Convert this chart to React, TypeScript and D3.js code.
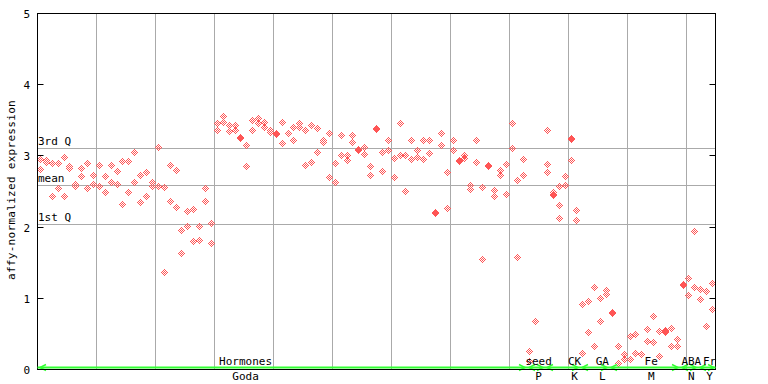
import React, { useEffect, useRef } from 'react'
import * as d3 from 'd3'

// replicate values per sample position, one array per experiment group
const goda: number[][] = [
    [2.95, 2.81], [2.93, 2.91], [2.9, 2.43], [2.9, 2.545], [2.98, 2.43], [2.85, 2.82], [2.6, 2.57], [2.83, 2.71],
    [2.89, 2.545], [2.72, 2.6], [2.87, 2.57], [2.71, 2.49], [2.87, 2.63], [2.78, 2.6], [2.925, 2.32], [2.925, 2.49],
    [3.05, 2.63], [2.73, 2.35], [2.77, 2.43], [2.63, 2.57], [3.12, 2.57], [2.56, 1.36], [2.87, 2.36], [2.8, 2.28],
    [1.95, 1.63], [2.22, 2.01], [2.25, 1.8], [2.01, 1.81], [2.545, 2.36], [2.05, 1.77], [3.45, 3.36], [3.56, 3.47],
    [3.42, 3.34], [3.42, 3.36], [3.26, 3.246], [3.14, 2.85], [3.5, 3.35], [3.53, 3.46], [3.47, 3.4], [3.36, 3.33],
    [3.31, 3.296], [3.47, 3.18], [3.31], [3.4, 3.22], [3.46, 3.4], [3.35, 2.87], [3.43, 2.91], [3.39, 3.05],
    [3.22, 3.19], [3.31, 2.69], [2.9, 2.63], [3.29, 3.0], [3.0, 2.94], [3.28, 3.19], [3.09, 3.07], [3.12, 3.02],
    [2.85, 2.73], [3.38, 3.366], [3.05, 2.78], [3.22, 3.07], [2.97, 2.7], [3.45, 3.0], [3.0, 2.5], [3.22, 2.95],
    [3.08, 2.98], [3.22, 2.95], [3.21, 3.04], [2.2, 2.186], [3.31, 3.14], [2.77, 2.26], [3.22, 3.08], [2.93, 2.916],
    [3.0, 2.97], [2.59, 2.53], [3.21, 2.91], [2.55, 1.545], [2.86, 2.846], [2.52, 2.43], [2.8, 2.73], [2.88, 2.46],
    [3.45, 3.11], [2.66, 1.57], [2.95, 2.73],
]
const seed: number[][] = [[0.25, 0.11], [0.67], []]
const ck: number[][] = [[3.35, 2.88, 2.77], [2.49, 2.455, 2.441], [2.57, 2.31, 2.12], [2.71, 2.59], [3.24, 3.226, 2.94], [2.235, 2.09]]
const ga: number[][] = [[0.91, 0.22], [0.95, 0.52], [1.15, 0.32], [1.0, 0.67], [1.11, 1.05]]
const fe: number[][] = [
    [0.8, 0.78], [0.33, 0.08], [0.21, 0.145], [0.46, 0.14], [0.49, 0.22], [0.21],
    [0.56, 0.39], [0.74, 0.38], [0.54, 0.18], [0.545, 0.531, 0.52], [0.57, 0.32], [0.42, 0.33],
]
const aba: number[][] = [[1.2, 1.186], [1.28, 1.04], [1.94, 1.15]]
const fr: number[][] = [[1.12, 0.98], [1.09, 0.6], [1.21, 0.84]]

const groups = [goda, seed, ck, ga, fe, aba, fr]
const topLabels = ['Hormones', 'seed', 'CK', 'GA', 'Fe', 'ABA', 'Fr']
const bottomLabels = ['Goda', 'P', 'K', 'L', 'M', 'N', 'Y']
// label anchor, in sample-index units
const labelAt = [35.3, 85, 91.1, 95.8, 104.1, 110.9, 114]

const yTicks = [0, 1, 2, 3, 4, 5]
const quartileNames = ['3rd Q', 'mean', '1st Q']
const quartileValues = [3.108, 2.587, 2.038]

const FONT = 'DejaVu Sans Mono, monospace'
const RED = '#ff5555'
const GREEN = '#33ff33'
const GRID = '#aaaaaa'

// checker diamond: pixels with odd manhattan distance <= 3
const diamondPath = (cx: number, cy: number) => {
    let p = ''
    for (let dx = -3; dx <= 3; dx++) {
        for (let dy = -3; dy <= 3; dy++) {
            const m = Math.abs(dx) + Math.abs(dy)
            if (m <= 3 && m % 2 === 1) p += `M${cx + dx} ${cy + dy}h1v1h-1z`
        }
    }
    return p
}

const Chart: React.FC<{ width: number; height: number }> = ({ width, height }) => {
    const svgRef = useRef<SVGSVGElement | null>(null)

    useEffect(() => {
        const svg = d3.select(svgRef.current)
        svg.selectAll('*').remove()

        const total = d3.sum(groups, g => g.length)
        const xScale = d3.scaleLinear().domain([0, total]).range([37.5, 715.5])
        const yScale = d3.scaleLinear().domain([0, 5]).range([369.5, 13.5])
        const px = (v: number) => Math.floor(v) + 0.5

        // vertical grid every 10 samples
        const gridIdx = d3.range(10, total, 10)
        svg.append('g')
            .selectAll('line')
            .data(gridIdx)
            .join('line')
            .attr('x1', d => px(xScale(d)))
            .attr('x2', d => px(xScale(d)))
            .attr('y1', yScale(5))
            .attr('y2', yScale(0))
            .attr('stroke', GRID)

        // quartile lines
        svg.append('g')
            .selectAll('line')
            .data(quartileValues)
            .join('line')
            .attr('x1', xScale(0))
            .attr('x2', xScale(total))
            .attr('y1', d => px(yScale(d)))
            .attr('y2', d => px(yScale(d)))
            .attr('stroke', GRID)

        // points
        const pts: { i: number; v: number }[] = []
        let offset = 0
        groups.forEach(g => {
            g.forEach((vals, k) => vals.forEach(v => pts.push({ i: offset + k, v })))
            offset += g.length
        })
        svg.append('path')
            .attr('d', pts.map(p => diamondPath(Math.floor(xScale(p.i + 0.5)), Math.floor(yScale(p.v)))).join(''))
            .attr('fill', RED)
            .attr('shape-rendering', 'crispEdges')

        // frame
        svg.append('rect')
            .attr('x', xScale(0))
            .attr('y', yScale(5))
            .attr('width', xScale(total) - xScale(0))
            .attr('height', yScale(0) - yScale(5))
            .attr('fill', 'none')
            .attr('stroke', '#000')

        // ticks both sides pointing inward
        const tk = svg.append('g')
        yTicks.forEach(t => {
            const y = px(yScale(t))
            tk.append('line').attr('x1', xScale(0)).attr('x2', xScale(0) + 6).attr('y1', y).attr('y2', y).attr('stroke', '#000')
            tk.append('line').attr('x1', xScale(total) - 6).attr('x2', xScale(total)).attr('y1', y).attr('y2', y).attr('stroke', '#000')
            tk.append('text')
                .attr('x', 30)
                .attr('y', y + 4)
                .attr('text-anchor', 'end')
                .attr('font-family', FONT)
                .attr('font-size', 11)
                .text(t)
        })

        svg.selectAll('text.q')
            .data(quartileNames)
            .join('text')
            .attr('class', 'q')
            .attr('x', 38)
            .attr('y', (d, k) => yScale(quartileValues[k]) - 3)
            .attr('font-family', FONT)
            .attr('font-size', 11)
            .text(d => d)

        // y axis title
        svg.append('text')
            .attr('transform', `translate(15, 190) rotate(-90)`)
            .attr('text-anchor', 'middle')
            .attr('font-family', FONT)
            .attr('font-size', 11)
            .attr('letter-spacing', 0.3)
            .text('affy-normalized expression')

        // group brackets along the bottom
        const gy = 367.5
        svg.append('line')
            .attr('x1', xScale(0)).attr('x2', xScale(total))
            .attr('y1', gy).attr('y2', gy)
            .attr('stroke', GREEN).attr('stroke-width', 2)
        offset = 0
        groups.forEach((g, k) => {
            const x0 = Math.round(xScale(offset))
            const x1 = Math.round(xScale(offset + g.length))
            svg.append('path')
                .attr('d', `M${x0 + 8} ${gy - 3}L${x0 + 2} ${gy}L${x0 + 8} ${gy + 3}M${x1 - 8} ${gy - 3}L${x1 - 2} ${gy}L${x1 - 8} ${gy + 3}`)
                .attr('fill', 'none')
                .attr('stroke', GREEN)
                .attr('stroke-width', 1.5)
            const lx = xScale(labelAt[k])
            svg.append('text')
                .attr('x', lx).attr('y', 365)
                .attr('text-anchor', 'middle')
                .attr('font-family', FONT).attr('font-size', 11)
                .text(topLabels[k])
            svg.append('text')
                .attr('x', lx).attr('y', 380)
                .attr('text-anchor', 'middle')
                .attr('font-family', FONT).attr('font-size', 11)
                .text(bottomLabels[k])
            offset += g.length
        })

        // bottom axis line on top of green
        svg.append('line')
            .attr('x1', xScale(0)).attr('x2', xScale(total))
            .attr('y1', 369.5).attr('y2', 369.5)
            .attr('stroke', '#000')
    }, [width, height])

    return <svg ref={svgRef} width={width} height={height} style={{ position: 'absolute', left: 0, top: 0, background: '#fff' }} />
}

export default function App() {
    return <Chart width={768} height={384} />
}
